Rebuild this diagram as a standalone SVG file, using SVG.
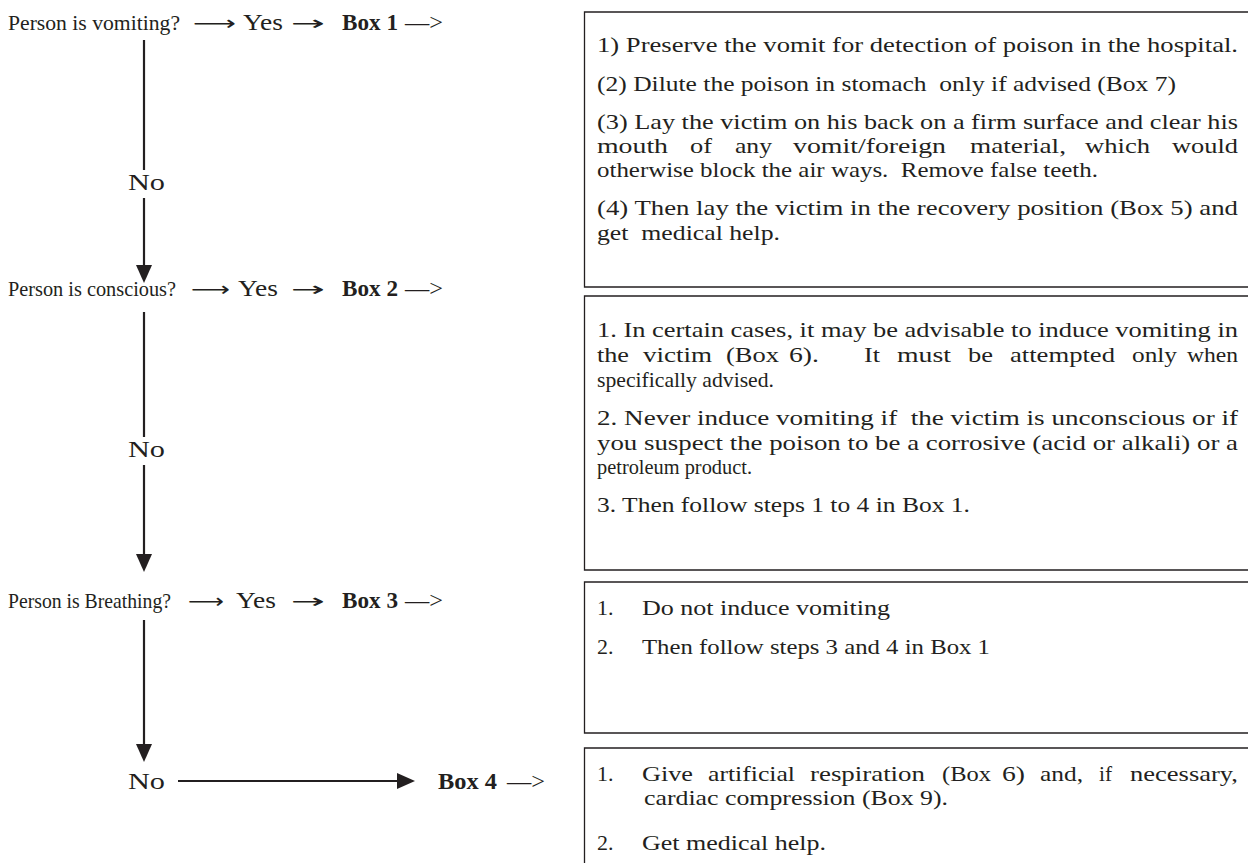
<svg xmlns="http://www.w3.org/2000/svg" width="1248" height="863" viewBox="0 0 1248 863">
<defs>
<marker id="ah" viewBox="0 0 10 10" refX="0" refY="5" markerWidth="18" markerHeight="16" markerUnits="userSpaceOnUse" orient="auto" preserveAspectRatio="none">
<path d="M0,0 L10,5 L0,10 z" fill="#231f20"/>
</marker>
</defs>
<style>
text { font-family: "Liberation Serif", "Times New Roman", serif; fill: #231f20; }
.lbl { font-size: 22.5px; }
.lbs { font-size: 21.5px; }
.b { font-weight: bold; }
.bx { font-size: 22px; }
.sym { font-family: "DejaVu Sans", sans-serif; font-size: 20px; }
.box { fill: none; stroke: #231f20; stroke-width: 1.3; }
.conn { stroke: #231f20; stroke-width: 2.2; fill: none; }
</style>
<rect width="1248" height="863" fill="#ffffff"/>

<g id="row1">
<text class="lbs" x="8" y="30" textLength="172" lengthAdjust="spacingAndGlyphs">Person is vomiting?</text>
<text class="sym" x="193" y="30" textLength="43" lengthAdjust="spacingAndGlyphs">⟶</text>
<text class="lbl" x="243" y="30" textLength="40" lengthAdjust="spacingAndGlyphs">Yes</text>
<text class="sym" x="291" y="30" textLength="34" lengthAdjust="spacingAndGlyphs">→</text>
<text class="lbl b" x="342" y="30" textLength="56" lengthAdjust="spacingAndGlyphs">Box 1</text>
<text class="lbl" x="405" y="30" textLength="38" lengthAdjust="spacingAndGlyphs">—&gt;</text>
</g>

<g id="row2">
<text class="lbs" x="8" y="296" textLength="168" lengthAdjust="spacingAndGlyphs">Person is conscious?</text>
<text class="sym" x="191" y="296" textLength="39" lengthAdjust="spacingAndGlyphs">⟶</text>
<text class="lbl" x="238" y="296" textLength="40" lengthAdjust="spacingAndGlyphs">Yes</text>
<text class="sym" x="291" y="296" textLength="34" lengthAdjust="spacingAndGlyphs">→</text>
<text class="lbl b" x="342" y="296" textLength="56" lengthAdjust="spacingAndGlyphs">Box 2</text>
<text class="lbl" x="405" y="296" textLength="38" lengthAdjust="spacingAndGlyphs">—&gt;</text>
</g>

<g id="row3">
<text class="lbs" x="8" y="608" textLength="163" lengthAdjust="spacingAndGlyphs">Person is Breathing?</text>
<text class="sym" x="188" y="608" textLength="36" lengthAdjust="spacingAndGlyphs">⟶</text>
<text class="lbl" x="236" y="608" textLength="40" lengthAdjust="spacingAndGlyphs">Yes</text>
<text class="sym" x="291" y="608" textLength="34" lengthAdjust="spacingAndGlyphs">→</text>
<text class="lbl b" x="342" y="608" textLength="56" lengthAdjust="spacingAndGlyphs">Box 3</text>
<text class="lbl" x="405" y="608" textLength="38" lengthAdjust="spacingAndGlyphs">—&gt;</text>
</g>

<g id="row4">
<text class="lbl" x="128" y="789" textLength="37" lengthAdjust="spacingAndGlyphs">No</text>
<text class="lbl b" x="438" y="789" textLength="59" lengthAdjust="spacingAndGlyphs">Box 4</text>
<text class="lbl" x="507" y="789" textLength="38" lengthAdjust="spacingAndGlyphs">—&gt;</text>
</g>

<g id="no1"><text class="lbl" x="128" y="190" textLength="37" lengthAdjust="spacingAndGlyphs">No</text></g>
<g id="no2"><text class="lbl" x="128" y="457" textLength="37" lengthAdjust="spacingAndGlyphs">No</text></g>

<g id="connectors">
<line class="conn" x1="144" y1="40" x2="144" y2="170"/>
<line class="conn" x1="144" y1="198" x2="144" y2="265" marker-end="url(#ah)"/>
<line class="conn" x1="144" y1="312" x2="144" y2="437"/>
<line class="conn" x1="144" y1="465" x2="144" y2="554" marker-end="url(#ah)"/>
<line class="conn" x1="144" y1="620" x2="144" y2="744" marker-end="url(#ah)"/>
<line class="conn" x1="178" y1="781" x2="397" y2="781" marker-end="url(#ah)"/>
</g>

<g id="box1">
<path class="box" d="M1250 12 H584.5 V287 H1250"/>
<text class="bx" x="597" y="52" textLength="641" lengthAdjust="spacingAndGlyphs">1) Preserve the vomit for detection of poison in the hospital.</text>
<text class="bx" x="597" y="91" textLength="579" lengthAdjust="spacingAndGlyphs" xml:space="preserve">(2) Dilute the poison in stomach  only if advised (Box 7)</text>
<text class="bx" x="597" y="129" textLength="641" lengthAdjust="spacingAndGlyphs">(3) Lay the victim on his back on a firm surface and clear his</text>
<text class="bx" y="153"><tspan x="597" textLength="71" lengthAdjust="spacingAndGlyphs">mouth</tspan><tspan x="690" textLength="22" lengthAdjust="spacingAndGlyphs">of</tspan><tspan x="735" textLength="37" lengthAdjust="spacingAndGlyphs">any</tspan><tspan x="793" textLength="153" lengthAdjust="spacingAndGlyphs">vomit/foreign</tspan><tspan x="970" textLength="96" lengthAdjust="spacingAndGlyphs">material,</tspan><tspan x="1085" textLength="65" lengthAdjust="spacingAndGlyphs">which</tspan><tspan x="1172" textLength="66" lengthAdjust="spacingAndGlyphs">would</tspan></text>
<text class="bx" x="597" y="177" textLength="501" lengthAdjust="spacingAndGlyphs" xml:space="preserve">otherwise block the air ways.  Remove false teeth.</text>
<text class="bx" x="597" y="215" textLength="641" lengthAdjust="spacingAndGlyphs">(4) Then lay the victim in the recovery position (Box 5) and</text>
<text class="bx" x="597" y="240" textLength="183" lengthAdjust="spacingAndGlyphs" xml:space="preserve">get  medical help.</text>
</g>

<g id="box2">
<path class="box" d="M1250 296 H584.5 V570 H1250"/>
<text class="bx" x="597" y="337" textLength="641" lengthAdjust="spacingAndGlyphs">1. In certain cases, it may be advisable to induce vomiting in</text>
<text class="bx" y="362"><tspan x="597" textLength="32" lengthAdjust="spacingAndGlyphs">the</tspan><tspan x="643" textLength="69" lengthAdjust="spacingAndGlyphs">victim</tspan><tspan x="726" textLength="53" lengthAdjust="spacingAndGlyphs">(Box</tspan><tspan x="789" textLength="30" lengthAdjust="spacingAndGlyphs">6).</tspan><tspan x="864" textLength="16" lengthAdjust="spacingAndGlyphs">It</tspan><tspan x="897" textLength="54" lengthAdjust="spacingAndGlyphs">must</tspan><tspan x="968" textLength="25" lengthAdjust="spacingAndGlyphs">be</tspan><tspan x="1010" textLength="105" lengthAdjust="spacingAndGlyphs">attempted</tspan><tspan x="1132" textLength="45" lengthAdjust="spacingAndGlyphs">only</tspan><tspan x="1187" textLength="51" lengthAdjust="spacingAndGlyphs">when</tspan></text>
<text class="bx" x="597" y="387" textLength="177" lengthAdjust="spacingAndGlyphs">specifically advised.</text>
<text class="bx" x="597" y="425" textLength="641" lengthAdjust="spacingAndGlyphs" xml:space="preserve">2. Never induce vomiting if  the victim is unconscious or if</text>
<text class="bx" x="597" y="450" textLength="641" lengthAdjust="spacingAndGlyphs">you suspect the poison to be a corrosive (acid or alkali) or a</text>
<text class="bx" x="597" y="474" textLength="155" lengthAdjust="spacingAndGlyphs">petroleum product.</text>
<text class="bx" x="597" y="512" textLength="373" lengthAdjust="spacingAndGlyphs">3. Then follow steps 1 to 4 in Box 1.</text>
</g>

<g id="box3">
<path class="box" d="M1250 582 H584.5 V733 H1250"/>
<text class="bx" x="597" y="615">1.</text>
<text class="bx" x="642" y="615" textLength="248" lengthAdjust="spacingAndGlyphs">Do not induce vomiting</text>
<text class="bx" x="597" y="654">2.</text>
<text class="bx" x="642" y="654" textLength="348" lengthAdjust="spacingAndGlyphs">Then follow steps 3 and 4 in Box 1</text>
</g>

<g id="box4">
<path class="box" d="M1250 748 H584.5 V866"/>
<text class="bx" x="597" y="781">1.</text>
<text class="bx" y="781"><tspan x="642" textLength="51" lengthAdjust="spacingAndGlyphs">Give</tspan><tspan x="708" textLength="87" lengthAdjust="spacingAndGlyphs">artificial</tspan><tspan x="810" textLength="115" lengthAdjust="spacingAndGlyphs">respiration</tspan><tspan x="942" textLength="49" lengthAdjust="spacingAndGlyphs">(Box</tspan><tspan x="1002" textLength="23" lengthAdjust="spacingAndGlyphs">6)</tspan><tspan x="1040" textLength="43" lengthAdjust="spacingAndGlyphs">and,</tspan><tspan x="1099" textLength="13" lengthAdjust="spacingAndGlyphs">if</tspan><tspan x="1130" textLength="108" lengthAdjust="spacingAndGlyphs">necessary,</tspan></text>
<text class="bx" x="644" y="805" textLength="304" lengthAdjust="spacingAndGlyphs">cardiac compression (Box 9).</text>
<text class="bx" x="597" y="850">2.</text>
<text class="bx" x="642" y="850" textLength="184" lengthAdjust="spacingAndGlyphs">Get medical help.</text>
</g>
</svg>
